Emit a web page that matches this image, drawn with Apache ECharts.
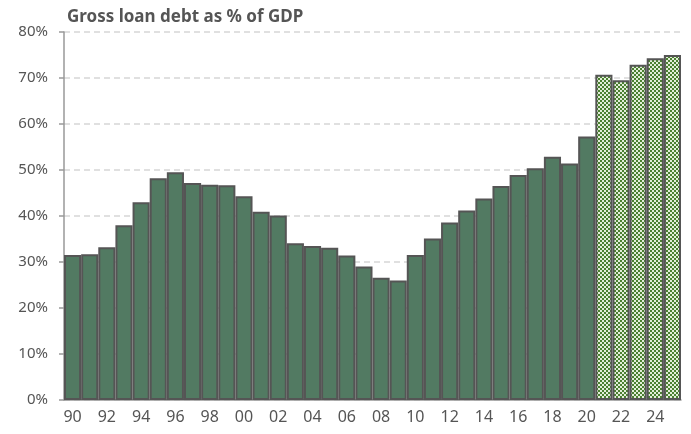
<!DOCTYPE html>
<html>
<head>
<meta charset="utf-8">
<script src="https://cdn.jsdelivr.net/npm/echarts@6/dist/echarts.min.js"></script>
<style>
  html, body { margin: 0; padding: 0; background: #fff; }
  #chart { width: 691px; height: 434px; }
</style>
</head>
<body>
<div id="chart"></div>
<script>
// Years 1990–2025, shown as two-digit labels
const years = [];
for (let y = 1990; y <= 2025; y++) years.push(String(y % 100).padStart(2, '0'));

// Gross loan debt, % of GDP (actuals through 2020, projections after)
const actual = [31.5, 31.7, 33.2, 38.0, 43.0, 48.2, 49.5, 47.2, 46.8, 46.7,
                44.3, 40.9, 40.1, 34.1, 33.5, 33.1, 31.4, 29.0, 26.6, 26.0,
                31.5, 35.1, 38.6, 41.2, 43.8, 46.5, 48.9, 50.4, 52.9, 51.4,
                57.3];
const projected = [70.7, 69.5, 72.9, 74.3, 75.0];

const yTicks = [0, 10, 20, 30, 40, 50, 60, 70, 80];

// Checkerboard fill for projected years
const tile = document.createElement('canvas');
tile.width = 4; tile.height = 4;
const tctx = tile.getContext('2d');
tctx.fillStyle = '#e2eed8';
tctx.fillRect(0, 0, 4, 4);
tctx.fillStyle = '#4a8030';
tctx.fillRect(0, 0, 2, 2);
tctx.fillRect(2, 2, 2, 2);

const data = actual.map(v => ({ value: v }))
  .concat(projected.map(v => ({
    value: v,
    itemStyle: { color: { image: tile, repeat: 'repeat' } }
  })));

const chart = echarts.init(document.getElementById('chart'), null, { renderer: 'canvas' });
const titleFont = '"Noto Sans", Lato, sans-serif';
const labelFont = '"Noto Sans", "Open Sans", sans-serif';

chart.setOption({
  animation: false,
  title: {
    text: 'Gross loan debt as % of GDP',
    left: 62, top: 4,
    textStyle: { fontFamily: titleFont, fontSize: 17, fontWeight: 'bold', color: '#555' }
  },
  grid: { left: 64, right: 10, top: 32, bottom: 34 },
  xAxis: {
    type: 'category',
    data: years,
    axisLine: { lineStyle: { color: '#999', width: 1.5 } },
    axisTick: { show: false },
    axisLabel: {
      interval: 1,
      fontFamily: labelFont, fontSize: 16, color: '#555', margin: 9
    }
  },
  yAxis: {
    type: 'value',
    min: yTicks[0], max: yTicks[yTicks.length - 1], interval: 10,
    axisLine: { show: true, lineStyle: { color: '#999', width: 1.5 } },
    axisTick: { show: true, length: 5, lineStyle: { color: '#999', width: 1.5 } },
    axisLabel: {
      fontFamily: labelFont, fontSize: 15, color: '#555', margin: 16,
      formatter: v => v + '%'
    },
    splitLine: { lineStyle: { color: '#d6d6d6', type: [6, 4], width: 1.5 } }
  },
  series: [{
    type: 'bar',
    data,
    barCategoryGap: '0%',
    itemStyle: { color: '#527a62', borderColor: '#555', borderWidth: 2 }
  }]
});
</script>
</body>
</html>
